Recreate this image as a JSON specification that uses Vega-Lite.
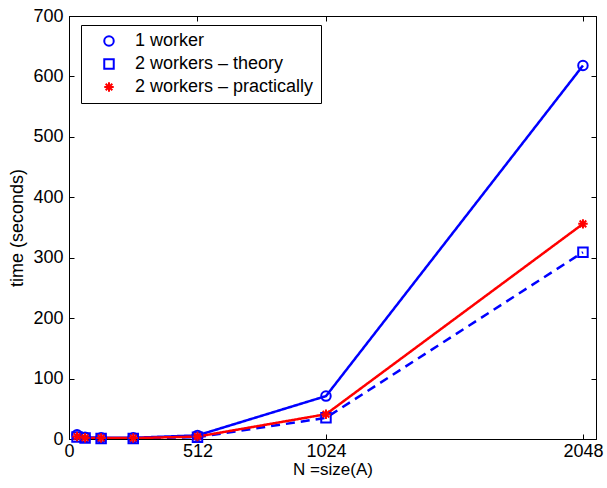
{
  "$schema": "https://vega.github.io/schema/vega-lite/v6.json",
  "width": 527,
  "height": 423,
  "autosize": {"type": "none"},
  "padding": {"left": 69, "top": 16, "right": 11, "bottom": 49},
  "background": "white",
  "config": {
    "view": {"stroke": "black", "strokeWidth": 1},
    "font": "Liberation Sans",
    "axis": {
      "grid": false,
      "domainColor": "black",
      "tickColor": "black",
      "labelColor": "black",
      "titleColor": "black",
      "labelFont": "Liberation Sans",
      "titleFont": "Liberation Sans",
      "labelFontSize": 18,
      "titleFontSize": 18,
      "titleFontWeight": "normal",
      "tickSize": -5,
      "labelFlush": false,
      "labelOverlap": false
    }
  },
  "data": {
    "values": [
      {"N": 32, "time": 7, "series": "1 worker"},
      {"N": 64, "time": 3, "series": "1 worker"},
      {"N": 128, "time": 2, "series": "1 worker"},
      {"N": 256, "time": 2, "series": "1 worker"},
      {"N": 512, "time": 6, "series": "1 worker"},
      {"N": 1024, "time": 71, "series": "1 worker"},
      {"N": 2048, "time": 618, "series": "1 worker"},
      {"N": 32, "time": 3.5, "series": "2 workers – theory"},
      {"N": 64, "time": 1.5, "series": "2 workers – theory"},
      {"N": 128, "time": 1, "series": "2 workers – theory"},
      {"N": 256, "time": 1, "series": "2 workers – theory"},
      {"N": 512, "time": 3, "series": "2 workers – theory"},
      {"N": 1024, "time": 35, "series": "2 workers – theory"},
      {"N": 2048, "time": 309, "series": "2 workers – theory"},
      {"N": 32, "time": 4, "series": "2 workers – practically"},
      {"N": 64, "time": 2, "series": "2 workers – practically"},
      {"N": 128, "time": 1.5, "series": "2 workers – practically"},
      {"N": 256, "time": 1.5, "series": "2 workers – practically"},
      {"N": 512, "time": 4, "series": "2 workers – practically"},
      {"N": 1024, "time": 41, "series": "2 workers – practically"},
      {"N": 2048, "time": 356, "series": "2 workers – practically"}
    ]
  },
  "resolve": {
    "axis": {"x": "independent", "y": "independent"},
    "legend": {"color": "independent", "shape": "independent", "strokeDash": "independent"}
  },
  "layer": [
    {
      "mark": {"type": "line", "strokeWidth": 2.5, "clip": true},
      "encoding": {
        "x": {
          "field": "N", "type": "quantitative",
          "scale": {"domain": [0, 2100], "nice": false},
          "axis": {"orient": "bottom", "values": [0, 512, 1024, 2048], "format": "d", "title": "N =size(A)", "titleFontSize": 17, "labelPadding": 8, "titlePadding": 1}
        },
        "y": {
          "field": "time", "type": "quantitative",
          "scale": {"domain": [0, 700], "nice": false},
          "axis": {"orient": "left", "values": [0, 100, 200, 300, 400, 500, 600, 700], "title": "time (seconds)", "labelPadding": 11, "titlePadding": 6}
        },
        "color": {
          "field": "series", "type": "nominal",
          "scale": {"domain": ["1 worker", "2 workers – theory", "2 workers – practically"], "range": ["#0000ff", "#0000ff", "#ff0000"]},
          "legend": null
        },
        "strokeDash": {
          "field": "series", "type": "nominal",
          "scale": {"domain": ["1 worker", "2 workers – theory", "2 workers – practically"], "range": [[1, 0], [9, 6], [1, 0]]},
          "legend": null
        }
      }
    },
    {
      "mark": {"type": "point", "filled": false, "strokeWidth": 2, "size": 90, "opacity": 1},
      "encoding": {
        "x": {
          "field": "N", "type": "quantitative",
          "scale": {"domain": [0, 2100], "nice": false},
          "axis": {"orient": "top", "values": [0, 512, 1024, 2048], "labels": false, "title": null}
        },
        "y": {
          "field": "time", "type": "quantitative",
          "scale": {"domain": [0, 700], "nice": false},
          "axis": {"orient": "right", "values": [0, 100, 200, 300, 400, 500, 600, 700], "labels": false, "title": null}
        },
        "color": {
          "field": "series", "type": "nominal",
          "scale": {"domain": ["1 worker", "2 workers – theory", "2 workers – practically"], "range": ["#0000ff", "#0000ff", "#ff0000"]},
          "legend": {
            "title": null, "orient": "none", "legendX": 12, "legendY": 9,
            "strokeColor": "black", "fillColor": "white", "padding": 7,
            "symbolOffset": 12, "labelFontSize": 18, "labelFont": "Liberation Sans", "labelColor": "black",
            "rowPadding": 5, "symbolStrokeWidth": 2, "symbolSize": 90, "labelOffset": 17, "cornerRadius": 0, "labelLimit": 400
          }
        },
        "shape": {
          "field": "series", "type": "nominal",
          "scale": {"domain": ["1 worker", "2 workers – theory", "2 workers – practically"], "range": ["circle", "square", "M0,-1L0,1M-1,0L1,0M-0.7,-0.7L0.7,0.7M-0.7,0.7L0.7,-0.7"]},
          "legend": {
            "title": null, "orient": "none", "legendX": 12, "legendY": 9,
            "strokeColor": "black", "fillColor": "white", "padding": 7,
            "symbolOffset": 12, "labelFontSize": 18, "labelFont": "Liberation Sans", "labelColor": "black",
            "rowPadding": 5, "symbolStrokeWidth": 2, "symbolSize": 90, "labelOffset": 17, "cornerRadius": 0, "labelLimit": 400
          }
        }
      }
    }
  ]
}
